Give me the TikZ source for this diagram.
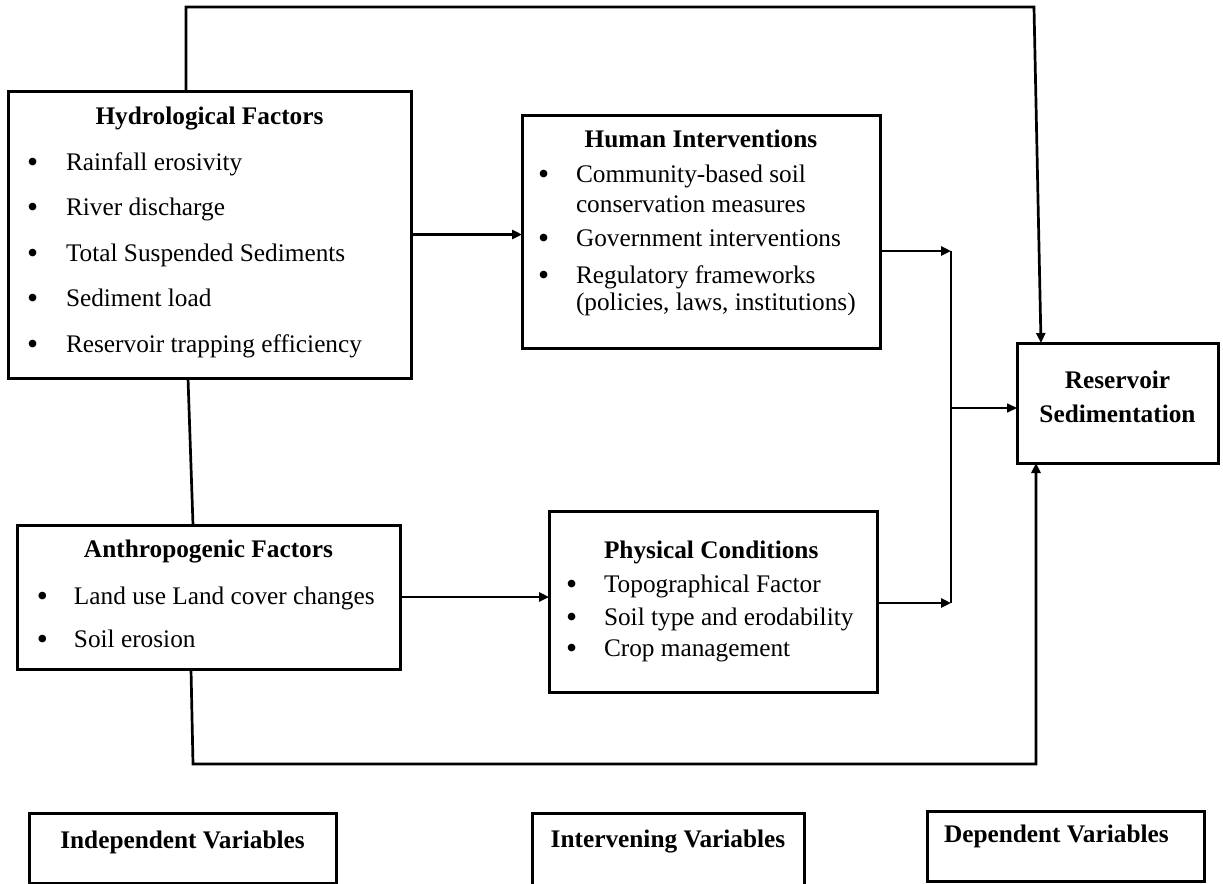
\documentclass[tikz,border=0pt]{standalone}
\usepackage{fontspec}
\usepackage{graphicx}
\setmainfont{Liberation Serif}
\usetikzlibrary{arrows.meta,calc}
\newlength\ux
\setlength\ux{0.5pt}
\newcommand\boxtext[3]{\begin{minipage}[t][#2\ux][t]{#1\ux}\fontsize{12.65}{0}\selectfont\lineskiplimit=-\maxdimen\lineskip=0pt\parindent=0pt #3\end{minipage}}
\newcommand\bigbul{\smash{\raisebox{-0.09em}{\scalebox{1.25}{\textbullet}}}}
\newcommand\itm[3]{\hspace*{#1\ux}\makebox[\dimexpr#2\ux-#1\ux\relax][l]{\bigbul}#3}
\newcommand\cont[2]{\hspace*{#1\ux}#2}
\newcommand\ttl[2]{\rule{0pt}{#1\ux}\makebox[\linewidth]{\bfseries #2}}
\tikzset{
  boxstyle/.style={draw, line width=1.5pt, inner sep=0pt, outer sep=0pt, anchor=north west},
  conn/.style={line width=1.35pt},
  arr/.style={conn, -{Triangle[length=5pt,width=4.5pt]}},
  thinarr/.style={line width=0.8pt, -{Triangle[length=5pt,width=4.5pt]}},
}
\begin{document}
\begin{tikzpicture}[x=0.5pt,y=-0.5pt]
\useasboundingbox (0,0) rectangle (1223,884);

\node[boxstyle] (hyd) at (8,91) {\boxtext{403}{287}{%
\ttl{33}{Hydrological Factors}\\[46\ux]
\itm{19}{58}{Rainfall erosivity}\\[45\ux]
\itm{19}{58}{River discharge}\\[46\ux]
\itm{19}{58}{Total Suspended Sediments}\\[45\ux]
\itm{19}{58}{Sediment load}\\[46\ux]
\itm{19}{58}{Reservoir trapping efficiency}}};

\node[boxstyle] (hum) at (522,115) {\boxtext{358}{233}{%
\ttl{32}{Human Interventions}\\[35\ux]
\itm{16}{54}{Community-based soil}\\[30\ux]
\cont{54}{conservation measures}\\[34\ux]
\itm{16}{54}{Government interventions}\\[37\ux]
\itm{16}{54}{Regulatory frameworks}\\[27\ux]
\cont{54}{(policies, laws, institutions)}}};

\node[boxstyle] (ant) at (17,525) {\boxtext{383}{144}{%
\ttl{32}{Anthropogenic Factors}\\[47\ux]
\itm{20}{57}{Land use Land cover changes}\\[43\ux]
\itm{20}{57}{Soil erosion}}};

\node[boxstyle] (phy) at (549,511) {\boxtext{328}{181}{%
\rule{0pt}{47\ux}\hspace*{55\ux}\textbf{Physical Conditions}\\[34\ux]
\itm{17}{55}{Topographical Factor}\\[33\ux]
\itm{17}{55}{Soil type and erodability}\\[31\ux]
\itm{17}{55}{Crop management}}};

\node[boxstyle] (res) at (1017,343) {\boxtext{201}{120}{%
\ttl{45}{Reservoir}\\[34\ux]
\makebox[\linewidth]{\bfseries Sedimentation}}};

\node[boxstyle] (ind) at (29,813) {\boxtext{307}{70}{\ttl{35}{Independent Variables}}};
\node[boxstyle] (int) at (532,813) {\boxtext{272}{80}{\ttl{34}{Intervening Variables}}};
\node[boxstyle] (dep) at (927,811) {\boxtext{277}{70}{%
\rule{0pt}{31\ux}\hspace*{17\ux}\textbf{Dependent Variables}}};

\coordinate (j1) at (951,251);
\coordinate (j2) at (951,603);
\coordinate (jm) at (951,408);
\coordinate (t1) at (186,7);
\coordinate (t2) at (1034,7);
\coordinate (b1) at (193,764);
\coordinate (b2) at (1036,764);

\draw[arr] (hyd.east) -- (hum.west |- hyd.east);
\draw[arr] (hum.east |- j1) -- (j1);
\draw[arr] (phy.east |- j2) -- (j2);
\draw[conn] (j1) -- (j2);
\draw[thinarr] (jm) -- (res.west |- jm);
\draw[arr] (ant.east) -- (phy.west |- ant.east);
\draw[conn] ($(hyd.south west)+(180,0)$) -- ($(ant.north west)+(176,0)$);
\draw[arr] ($(hyd.north west)+(178,0)$) -- (t1) -- (t2) -- ($(res.north west)+(24,0)$);
\draw[arr] ($(ant.south west)+(174,0)$) -- (b1) -- (b2) -- ($(res.south west)+(19,0)$);
\end{tikzpicture}
\end{document}
